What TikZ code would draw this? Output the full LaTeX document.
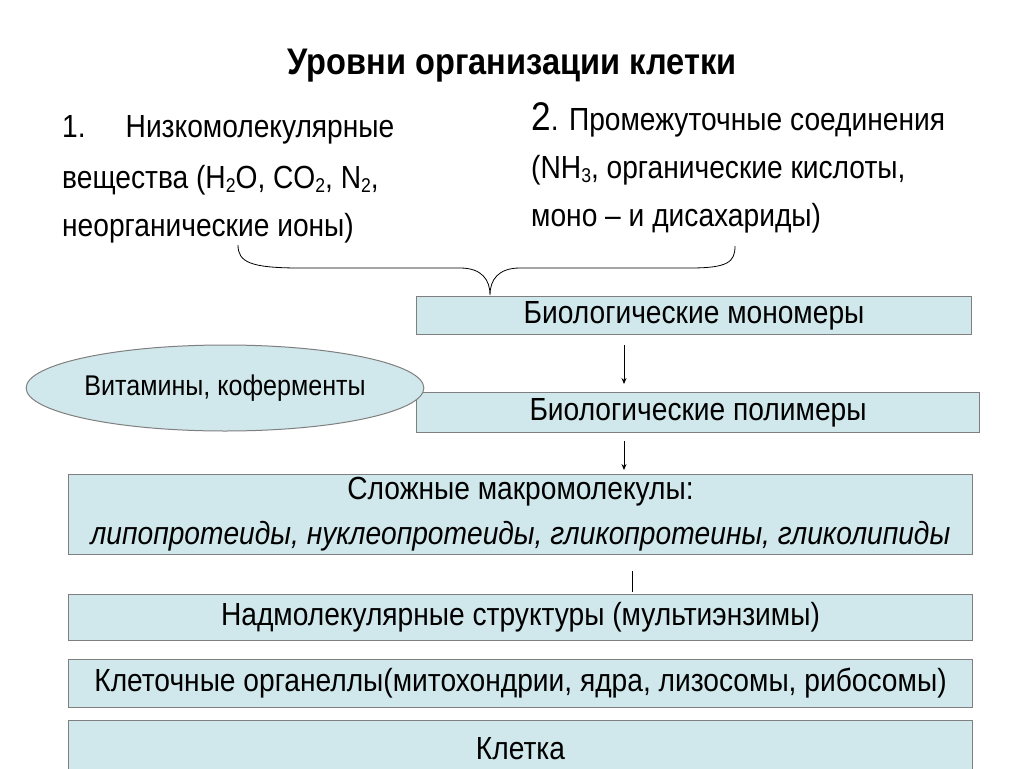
\documentclass[tikz,border=0pt]{standalone}
\usepackage{fontspec}
\setmainfont[FakeStretch=0.88]{Liberation Sans}
\usetikzlibrary{shapes.geometric,arrows.meta}
\definecolor{boxfill}{HTML}{D0E8EC}
\definecolor{boxline}{HTML}{7F7F7F}
\newcommand{\lowsub}[1]{\raisebox{-4pt}{\fontsize{20}{20}\selectfont #1}}
\tikzset{
 lvl/.style={draw=boxline,fill=boxfill,line width=1pt,anchor=north west,inner sep=0pt,align=center,font=\fontsize{32}{45}\selectfont},
 txt/.style={anchor=west,inner sep=0pt,font=\fontsize{32}{36}\selectfont},
 arr/.style={-{Stealth[length=6pt,width=5pt]},line width=0.8pt}
}
\begin{document}
\begin{tikzpicture}[x=1pt,y=-1pt]
\useasboundingbox (0,0) rectangle (1024,768);
\node[anchor=center,inner sep=0pt,font=\fontsize{37}{40}\selectfont\bfseries] (title) at (512,66) {Уровни организации клетки};
\node[txt] (l1a) at (62,130) {1.\hspace{40pt}Низкомолекулярные};
\node[txt] (l1b) at (62,180) {вещества (H\lowsub{2}O, CO\lowsub{2}, N\lowsub{2},};
\node[txt] (l1c) at (62,228) {неорганические ионы)};
\node[txt] (l2a) at (531,120) {{\fontsize{40}{42}\selectfont 2}. Промежуточные соединения};
\node[txt] (l2b) at (531,170) {(NH\lowsub{3}, органические кислоты,};
\node[txt] (l2c) at (531,218) {моно -- и дисахариды)};
\coordinate (bl) at (238,245);
\coordinate (br) at (735,246);
\coordinate (tip) at (490,295);
\draw[line width=0.8pt] (bl) .. controls (238,262) and (250,268) .. (300,268) -- (460,268) .. controls (482,268) and (490,280) .. (tip)
 .. controls (490,280) and (498,268) .. (520,268) -- (690,268) .. controls (728,268) and (735,262) .. (br);
\node[lvl,minimum width=555pt,minimum height=38pt] (mono) at (416,296) {\raisebox{-4pt}{Биологические мономеры}};
\node[lvl,minimum width=563pt,minimum height=40pt] (poly) at (416,392) {\raisebox{-4pt}{Биологические полимеры}};
\node[draw=boxline,fill=boxfill,line width=1pt,ellipse,minimum width=364pt,minimum height=86pt,inner sep=0pt,font=\fontsize{28.5}{30}\selectfont] (vit) at (225,388) {Витамины, коферменты};
\node[lvl,minimum width=904pt,minimum height=80pt] (macro) at (68,474) {Сложные макромолекулы:\\\itshape липопротеиды, нуклеопротеиды, гликопротеины, гликолипиды};
\node[lvl,minimum width=904pt,minimum height=46pt] (supra) at (68,594) {\raisebox{-3pt}{Надмолекулярные структуры (мультиэнзимы)}};
\node[lvl,minimum width=904pt,minimum height=48pt] (org) at (68,659) {\raisebox{-3pt}{Клеточные органеллы(митохондрии, ядра, лизосомы, рибосомы)}};
\node[lvl,minimum width=904pt,minimum height=56pt] (cell) at (68,720) {Клетка};
\draw[arr] ([yshift=-10pt]mono.south -| 624,0) -- ([yshift=8pt]poly.north -| 624,0);
\draw[arr] ([yshift=-8pt]poly.south -| 624,0) -- ([yshift=4pt]macro.north -| 624,0);
\draw[line width=0.8pt] ([yshift=-16pt]macro.south -| 632,0) -- ([yshift=2pt]supra.north -| 632,0);
\end{tikzpicture}
\end{document}
